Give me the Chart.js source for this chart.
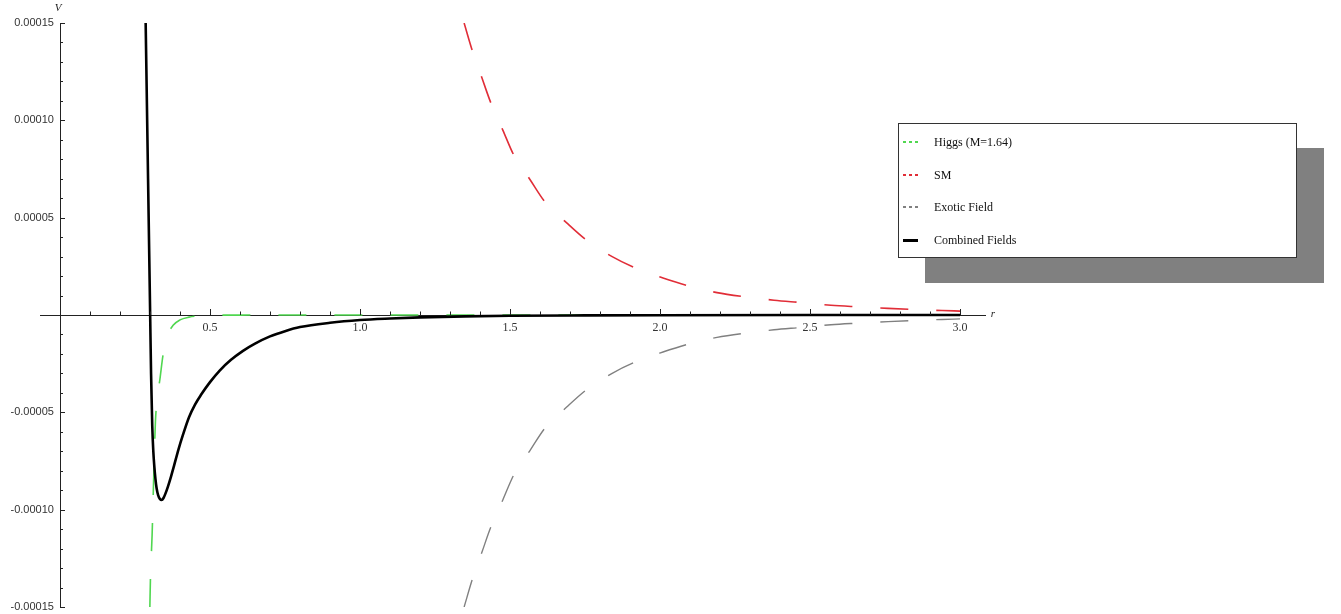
<!DOCTYPE html>
<html>
<head>
<meta charset="utf-8">
<title>V(r)</title>
<script src="https://cdn.jsdelivr.net/npm/chart.js@4.4.0/dist/chart.umd.min.js"></script>
<style>
  body { margin: 0; background: #fff; }
  #wrap { position: relative; width: 1341px; height: 614px; }
  #legend {
    position: absolute; left: 898px; top: 123px; width: 397px; height: 133px;
    border: 1px solid #333; background: #fff; box-shadow: 27px 25px 0 0 #808080;
    font-family: 'Liberation Serif', 'Times New Roman', serif; font-size: 12px; color: #111;
  }
  .row { position: absolute; left: 4px; height: 16px; line-height: 16px; }
  .mk { position: absolute; left: 0; width: 15px; }
  .tx { position: absolute; left: 31px; top: 0; white-space: nowrap; }
</style>
</head>
<body>
<div id="wrap">
  <canvas id="potential" width="1341" height="614"></canvas>
  <div id="legend"></div>
</div>
<script>
// Higgs (M=1.64)
var higgsR = [0.2995, 0.3015, 0.307, 0.312, 0.318, 0.325, 0.333, 0.344, 0.36, 0.377, 0.4, 0.43, 0.46, 0.5, 0.6, 0.8, 1.0, 1.5, 2.0, 2.5, 3.0];
var higgsV = [-1.5e-4, -1.35e-4, -1.13e-4, -8.5e-5, -5.5e-5, -4.2e-5, -3.3e-5, -2.0e-5, -1.0e-5, -5.3e-6, -2.5e-6, -1.1e-6, -0.5e-6, -0.2e-6, -0.05e-6, 0, 0, 0, 0, 0, 0];

// SM and Exotic Field share the same r samples
var tailR = [1.347, 1.376, 1.406, 1.436, 1.476, 1.513, 1.567, 1.617, 1.689, 1.756, 1.839, 1.917, 2.01, 2.1, 2.19, 2.28, 2.38, 2.47, 2.57, 2.66, 2.76, 2.85, 2.94, 3.0];
var smV = [1.5e-4, 1.35e-4, 1.22e-4, 1.09e-4, 9.5e-5, 8.2e-5, 6.95e-5, 5.8e-5, 4.73e-5, 3.83e-5, 3.01e-5, 2.42e-5, 1.9e-5, 1.47e-5, 1.15e-5, 9.4e-6, 7.6e-6, 6.4e-6, 5.0e-6, 4.2e-6, 3.4e-6, 2.8e-6, 2.3e-6, 2.0e-6];
var exoticV = [-1.5e-4, -1.35e-4, -1.22e-4, -1.09e-4, -9.5e-5, -8.2e-5, -6.95e-5, -5.8e-5, -4.73e-5, -3.83e-5, -3.01e-5, -2.42e-5, -1.9e-5, -1.47e-5, -1.15e-5, -9.4e-6, -7.6e-6, -6.4e-6, -5.0e-6, -4.2e-6, -3.4e-6, -2.8e-6, -2.3e-6, -2.0e-6];

// Combined Fields
var combR = [0.2855, 0.2905, 0.2955, 0.3005, 0.3035, 0.3075, 0.311, 0.3145, 0.318, 0.322, 0.327, 0.333, 0.339, 0.345, 0.352, 0.36, 0.37, 0.38, 0.395, 0.41, 0.43, 0.45, 0.47, 0.5, 0.533, 0.57, 0.61, 0.65, 0.7, 0.75, 0.8, 0.9, 1.0, 1.1, 1.2, 1.35, 1.5, 1.75, 2.0, 2.5, 3.0];
var combV = [1.5e-4, 1.0e-4, 5.0e-5, 0, -3.0e-5, -5.7e-5, -7.0e-5, -7.8e-5, -8.4e-5, -8.9e-5, -9.25e-5, -9.45e-5, -9.5e-5, -9.4e-5, -9.15e-5, -8.8e-5, -8.3e-5, -7.75e-5, -6.9e-5, -6.15e-5, -5.25e-5, -4.6e-5, -4.1e-5, -3.45e-5, -2.84e-5, -2.3e-5, -1.84e-5, -1.47e-5, -1.1e-5, -8.3e-6, -6.2e-6, -4.0e-6, -2.6e-6, -1.8e-6, -1.2e-6, -0.7e-6, -0.4e-6, -0.2e-6, -0.1e-6, 0, 0];

var seriesNames = ['Higgs (M=1.64)', 'SM', 'Exotic Field', 'Combined Fields'];
var seriesColors = ['rgb(80,215,80)', 'rgb(225,45,55)', 'rgb(128,128,128)', '#000'];

var rMin = -0.0667, rMax = 3.0833;
var vMin = -0.00015, vMax = 0.00015;
var rLabelStep = 0.5, vLabelStep = 0.00005;
var rMinorStep = 0.1, vMinorStep = 0.00001;

function pts(xs, ys) {
  var out = [];
  for (var i = 0; i < xs.length; i++) out.push({x: xs[i], y: ys[i]});
  return out;
}

var tickMarks = {
  id: 'tickMarks',
  afterDraw: function(chart) {
    var ctx = chart.ctx, xs = chart.scales.x, ys = chart.scales.y;
    var x0 = xs.getPixelForValue(0), y0 = ys.getPixelForValue(0);
    ctx.save();
    ctx.strokeStyle = '#222';
    ctx.lineWidth = 1;
    ctx.beginPath();
    var n = Math.round(rMax / rMinorStep);
    for (var i = 1; i <= n; i++) {
      var v = i * rMinorStep;
      if (v > 3.0001) break;
      var px = Math.round(xs.getPixelForValue(v)) + 0.5;
      var len = i % 5 === 0 ? 6 : 3.5;
      ctx.moveTo(px, y0);
      ctx.lineTo(px, y0 - len);
    }
    var m = Math.round(vMax / vMinorStep);
    for (var j = -m; j <= m; j++) {
      if (j === 0) continue;
      var py = Math.round(ys.getPixelForValue(j * vMinorStep)) + 0.5;
      var l = j % 5 === 0 ? 5 : 3;
      ctx.moveTo(x0, py);
      ctx.lineTo(x0 + l, py);
    }
    ctx.stroke();
    ctx.fillStyle = '#222';
    ctx.font = 'italic 11px "Liberation Serif", serif';
    ctx.textAlign = 'center';
    ctx.textBaseline = 'middle';
    ctx.fillText('V', x0 - 2, 8);
    ctx.fillText('r', xs.right + 8, y0 - 1);
    ctx.restore();
  }
};

var chart = new Chart(document.getElementById('potential'), {
  type: 'scatter',
  data: {
    datasets: [
      { label: seriesNames[0], data: pts(higgsR, higgsV), borderColor: seriesColors[0], borderWidth: 1.6, borderDash: [28, 28], order: 3 },
      { label: seriesNames[1], data: pts(tailR, smV), borderColor: seriesColors[1], borderWidth: 1.6, borderDash: [28, 28], order: 2 },
      { label: seriesNames[2], data: pts(tailR, exoticV), borderColor: seriesColors[2], borderWidth: 1.4, borderDash: [28, 28], order: 1 },
      { label: seriesNames[3], data: pts(combR, combV), borderColor: seriesColors[3], borderWidth: 2.6, order: 0 }
    ]
  },
  options: {
    responsive: false,
    animation: false,
    showLine: true,
    layout: { padding: { left: 40, top: 23, right: 356, bottom: 7 } },
    elements: {
      point: { radius: 0, hoverRadius: 0 },
      line: { cubicInterpolationMode: 'monotone', fill: false }
    },
    plugins: { legend: { display: false }, tooltip: { enabled: false } },
    scales: {
      x: {
        type: 'linear', position: { y: 0 }, min: rMin, max: rMax,
        grid: { display: false, drawTicks: false },
        border: { display: true, color: '#222', width: 1 },
        ticks: {
          stepSize: rLabelStep, includeBounds: false, autoSkip: false, maxRotation: 0, padding: 6,
          color: '#333', font: { family: '"Liberation Serif", serif', size: 12 },
          callback: function(v) { return v > 0.01 ? Number(v).toFixed(1) : ''; }
        }
      },
      y: {
        type: 'linear', position: { x: 0 }, min: vMin, max: vMax,
        grid: { display: false, drawTicks: false },
        border: { display: true, color: '#222', width: 1 },
        ticks: {
          stepSize: vLabelStep, autoSkip: false, padding: 0,
          color: '#333', font: { family: '"Liberation Sans", Arial, sans-serif', size: 11 },
          // centred axis labels get no padding from Chart.js, so pad with spaces
          callback: function(v) { return Math.abs(v) < 1e-9 ? '' : Number(v).toFixed(5) + '  '; }
        }
      }
    }
  },
  plugins: [tickMarks]
});

// legend box built from the chart's datasets
var legend = document.getElementById('legend');
chart.data.datasets.forEach(function(ds, i) {
  var row = document.createElement('div');
  row.className = 'row';
  row.style.top = (10 + i * 32.7) + 'px';
  var mk = document.createElement('span');
  mk.className = 'mk';
  if (ds.borderDash) {
    mk.style.top = '7px';
    mk.style.height = '2px';
    mk.style.background = 'repeating-linear-gradient(90deg,' + ds.borderColor + ' 0 3px, transparent 3px 6px)';
  } else {
    mk.style.top = '7px';
    mk.style.height = '3px';
    mk.style.background = ds.borderColor;
  }
  var tx = document.createElement('span');
  tx.className = 'tx';
  tx.textContent = ds.label;
  row.appendChild(mk);
  row.appendChild(tx);
  legend.appendChild(row);
});
</script>
</body>
</html>
